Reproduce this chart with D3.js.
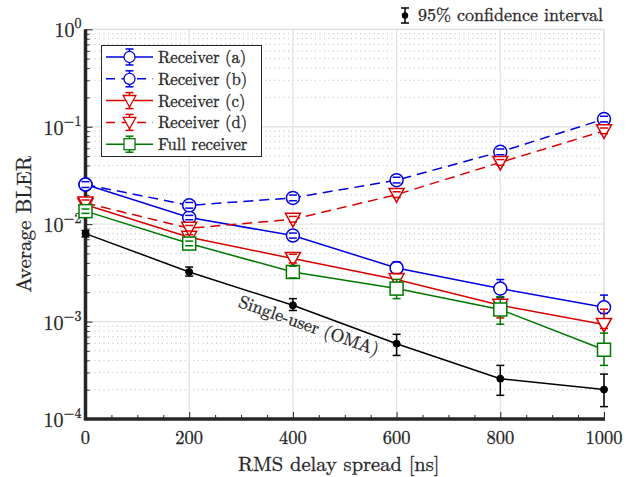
<!DOCTYPE html>
<html><head><meta charset="utf-8">
<script src="https://cdn.jsdelivr.net/npm/d3@7"></script>
<style>body{margin:0;background:#fff}svg{display:block}svg text{font-family:'Latin Modern Roman','Liberation Serif',serif}</style>
</head><body><svg id="c" width="639" height="477"></svg>
<script>
const delays = [0, 200, 400, 600, 800, 1000];
const xTicks = [0, 200, 400, 600, 800, 1000];
const yTickExp = [0, -1, -2, -3, -4];

const recA   = [0.0255, 0.0117, 0.00764, 0.00355, 0.00218, 0.0014];
const recALo = [0.0245, 0.0111, 0.0072, 0.0031, 0.00178, 0.00121];
const recAHi = [0.0265, 0.0123, 0.0081, 0.0041, 0.0027, 0.00187];

const recB   = [0.0255, 0.0156, 0.0186, 0.0283, 0.0552, 0.1197];
const recBLo = [0.0238, 0.0146, 0.0174, 0.0265, 0.0516, 0.112];
const recBHi = [0.0273, 0.0167, 0.0199, 0.0303, 0.0591, 0.128];

const recC   = [0.0158, 0.00733, 0.00443, 0.0027, 0.00147, 0.000935];
const recCLo = [0.0150, 0.0069, 0.0040, 0.0023, 0.00109, 0.00085];
const recCHi = [0.0166, 0.0078, 0.0049, 0.0031, 0.0017, 0.00134];

const recD   = [0.0165, 0.00907, 0.0112, 0.0201, 0.043, 0.0907];
const recDLo = [0.0154, 0.0085, 0.0105, 0.0188, 0.0402, 0.0848];
const recDHi = [0.0177, 0.0097, 0.012, 0.0215, 0.046, 0.097];

const full   = [0.0136, 0.00632, 0.00323, 0.00218, 0.00133, 0.000514];
const fullLo = [0.0129, 0.0060, 0.0028, 0.00172, 0.00094, 0.000355];
const fullHi = [0.0143, 0.0067, 0.0037, 0.00271, 0.0018, 0.000762];

const single   = [0.0080, 0.00323, 0.00147, 0.000593, 0.000259, 0.000201];
const singleLo = [0.0074, 0.00293, 0.0013, 0.000449, 0.000175, 0.000134];
const singleHi = [0.0086, 0.00363, 0.00172, 0.00074, 0.000355, 0.000289];

const seriesNames = ["Receiver (a)", "Receiver (b)", "Receiver (c)", "Receiver (d)", "Full receiver"];

const FONT = "'Latin Modern Roman', 'Liberation Serif', serif";
const BLUE = "#0000e0", RED = "#d90000", GREEN = "#007800", BLACK = "#000";
const TXT = "#262626";
const series = [
  {name: seriesNames[0], v: recA, lo: recALo, hi: recAHi, color: BLUE, dash: null, marker: "circle"},
  {name: seriesNames[1], v: recB, lo: recBLo, hi: recBHi, color: BLUE, dash: "10,6", marker: "circle"},
  {name: seriesNames[2], v: recC, lo: recCLo, hi: recCHi, color: RED, dash: null, marker: "tri"},
  {name: seriesNames[3], v: recD, lo: recDLo, hi: recDHi, color: RED, dash: "10,6", marker: "tri"},
  {name: seriesNames[4], v: full, lo: fullLo, hi: fullHi, color: GREEN, dash: null, marker: "square"},
  {name: "single", v: single, lo: singleLo, hi: singleHi, color: BLACK, dash: null, marker: "dot"}
];

const svg = d3.select("#c");
const L = 85.5, T = 29.3, R = 604, B = 419;
const x = d3.scaleLinear().domain([0, 1000]).range([L, R]);
const y = d3.scaleLog().domain([1e-4, 1]).range([B, T]);

function txt(sel) { return sel.style("font-family", FONT).attr("fill", TXT).attr("stroke", TXT).attr("stroke-width", 0.3); }

// grids
const g = svg.append("g");
const minorVals = [];
for (let e = -4; e < 0; e++) for (let m = 2; m <= 9; m++) minorVals.push(m * Math.pow(10, e));
g.selectAll(".mn").data(minorVals).join("line")
  .attr("x1", L).attr("x2", R).attr("y1", d => y(d)).attr("y2", d => y(d))
  .attr("stroke", "#b8b8b8").attr("stroke-width", 1).attr("stroke-dasharray", "1,3.5");
g.selectAll(".mj").data(yTickExp.slice(1, 4)).join("line")
  .attr("x1", L).attr("x2", R).attr("y1", d => y(Math.pow(10, d))).attr("y2", d => y(Math.pow(10, d)))
  .attr("stroke", "#e3e3e3").attr("stroke-width", 1.3);
g.selectAll(".mx").data(xTicks.slice(1, 5)).join("line")
  .attr("y1", T).attr("y2", B).attr("x1", d => x(d)).attr("x2", d => x(d))
  .attr("stroke", "#e3e3e3").attr("stroke-width", 1.3);
svg.append("path").attr("d", `M${L},${T}H${R}V${B}`).attr("fill", "none").attr("stroke", "#dcdcdc").attr("stroke-width", 1.3);

// axes
const yAxis = d3.axisLeft(y).tickValues(yTickExp.map(e => Math.pow(10, e))).tickSize(-7).tickFormat("");
const ya = svg.append("g").attr("transform", `translate(${L},0)`).call(yAxis);
const yMinor = d3.axisLeft(y).tickValues(minorVals).tickSize(-4).tickFormat("");
const ym = svg.append("g").attr("transform", `translate(${L},0)`).call(yMinor);
const xAxis = d3.axisBottom(x).tickValues(xTicks).tickSize(-7).tickFormat("");
const xa = svg.append("g").attr("transform", `translate(0,${B})`).call(xAxis);
const xMinorVals = d3.range(50, 1000, 50).filter(v => v % 200 !== 0);
const xMinor = d3.axisBottom(x).tickValues(xMinorVals).tickSize(-4).tickFormat("");
const xm = svg.append("g").attr("transform", `translate(0,${B})`).call(xMinor);
[ya, ym, xa, xm].forEach(a => { a.select(".domain").remove(); a.selectAll("line").attr("stroke", TXT).attr("stroke-width", 1); });
svg.append("path").attr("d", `M${L},${T}V${B}H${R + 1}`).attr("fill", "none").attr("stroke", TXT).attr("stroke-width", 3.5);

// tick labels
txt(svg.selectAll(".xl").data(xTicks).join("text"))
  .attr("x", d => x(d)).attr("y", B + 24.5).attr("text-anchor", "middle").attr("font-size", 18.5).text(d => d);
const yl = txt(svg.selectAll(".yl").data(yTickExp).join("text"))
  .attr("x", L - 4).attr("y", d => y(Math.pow(10, d)) + 8).attr("text-anchor", "end").attr("font-size", 20);
yl.append("tspan").text("10");
yl.append("tspan").attr("dy", -9).attr("font-size", 14).text(d => d === 0 ? "0" : "\u2212" + (-d));

// axis titles
txt(svg.append("text")).attr("x", (L + R) / 2 - 6).attr("y", 471).attr("text-anchor", "middle").attr("font-size", 20.5).text("RMS delay spread [ns]");
txt(svg.append("text")).attr("transform", `translate(31,${(T + B) / 2}) rotate(-90)`).attr("text-anchor", "middle").attr("font-size", 21).text("Average BLER");

function drawMarker(sel, type, color) {
  if (type === "circle") sel.append("circle").attr("r", 6.5).attr("fill", "#fff").attr("stroke", color).attr("stroke-width", 1.5);
  else if (type === "tri") sel.append("path").attr("d", "M-7.5,-6L7.5,-6L0,7.5Z").attr("fill", "#fff").attr("stroke", color).attr("stroke-width", 1.5);
  else if (type === "square") sel.append("rect").attr("x", -6.5).attr("y", -6.5).attr("width", 13).attr("height", 13).attr("fill", "#fff").attr("stroke", color).attr("stroke-width", 1.5);
  else if (type === "dot") sel.append("circle").attr("r", 3.5).attr("fill", color).attr("stroke", color).attr("stroke-width", 1);
}

const line = d3.line().x(d => x(d[0])).y(d => y(d[1]));
series.forEach(s => {
  const sg = svg.append("g");
  const pts = delays.map((d, i) => [d, s.v[i]]);
  sg.append("path").attr("d", line(pts)).attr("fill", "none").attr("stroke", s.color).attr("stroke-width", 1.5)
    .attr("stroke-dasharray", s.dash);
  const eb = sg.selectAll(".eb").data(delays).join("g");
  eb.append("line").attr("x1", d => x(d)).attr("x2", d => x(d)).attr("y1", (d, i) => y(s.lo[i])).attr("y2", (d, i) => y(s.hi[i]))
    .attr("stroke", s.color).attr("stroke-width", 1.5);
  const mk = sg.selectAll(".mk").data(delays).join("g").attr("transform", (d, i) => `translate(${x(d)},${y(s.v[i])})`);
  drawMarker(mk, s.marker, s.color);
  sg.selectAll(".cap").data(delays).join("g").each(function(d, i) {
    const cg = d3.select(this);
    [s.lo[i], s.hi[i]].forEach(v => {
      cg.append("line").attr("x1", x(d) - 4).attr("x2", x(d) + 4).attr("y1", y(v)).attr("y2", y(v)).attr("stroke", s.color).attr("stroke-width", 1.5);
    });
  });
});

txt(svg.append("text")).attr("transform", `translate(307,331) rotate(19.5)`).attr("text-anchor", "middle").attr("font-size", 17.8).text("Single-user (OMA)");

// legend
const lg = svg.append("g");
lg.append("rect").attr("x", 101.5).attr("y", 45.5).attr("width", 160).attr("height", 111).attr("fill", "#fff").attr("stroke", TXT).attr("stroke-width", 1);
series.slice(0, 5).forEach((s, i) => {
  const yy = 57 + i * 21.8;
  const e = lg.append("g").attr("transform", `translate(0,${yy})`);
  e.append("line").attr("x1", 106).attr("x2", 153).attr("y1", 0).attr("y2", 0).attr("stroke", s.color).attr("stroke-width", 1.5)
    .attr("stroke-dasharray", s.dash ? "9,6.5" : null);
  e.append("line").attr("x1", 129.5).attr("x2", 129.5).attr("y1", -8).attr("y2", 8).attr("stroke", s.color).attr("stroke-width", 1.5);
  e.append("line").attr("x1", 125.5).attr("x2", 133.5).attr("y1", -8).attr("y2", -8).attr("stroke", s.color).attr("stroke-width", 1.5);
  e.append("line").attr("x1", 125.5).attr("x2", 133.5).attr("y1", 8).attr("y2", 8).attr("stroke", s.color).attr("stroke-width", 1.5);
  const m = e.append("g").attr("transform", "translate(129.5,0) scale(0.85)");
  drawMarker(m, s.marker, s.color);
  txt(e.append("text")).attr("x", 158).attr("y", 6).attr("font-size", 16.7).text(s.name);
});

// confidence interval annotation
const ci = svg.append("g");
ci.append("line").attr("x1", 405).attr("x2", 405).attr("y1", 8).attr("y2", 23).attr("stroke", "#000").attr("stroke-width", 1.5);
ci.append("line").attr("x1", 401).attr("x2", 409).attr("y1", 8).attr("y2", 8).attr("stroke", "#000").attr("stroke-width", 1.5);
ci.append("line").attr("x1", 401).attr("x2", 409).attr("y1", 23).attr("y2", 23).attr("stroke", "#000").attr("stroke-width", 1.5);
ci.append("circle").attr("cx", 405).attr("cy", 15.5).attr("r", 3.2).attr("fill", "#000");
txt(ci.append("text")).attr("x", 418).attr("y", 21).attr("font-size", 18).text("95% confidence interval");
</script></body></html>
